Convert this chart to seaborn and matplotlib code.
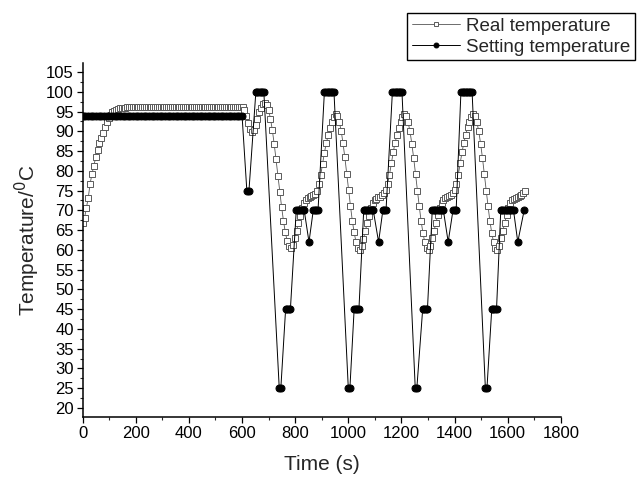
import numpy as np
import matplotlib
matplotlib.use("Agg")
import matplotlib.pyplot as plt
from matplotlib.ticker import MultipleLocator
import seaborn as sns

# real temperature, logged every 7 s
real_time = np.arange(0, 1667, 7)
real_temp = (
    [66.7, 68.1, 70.7, 73.2, 76.8, 79.2, 81.3, 83.4, 85.3, 87.0, 88.3, 89.7, 91.0, 92.3, 93.4, 94.2]
    + [94.8, 95.2, 95.5, 95.7, 95.8, 95.9, 96.0, 96.0, 96.1, 96.1]
    + [96.2] * 61
    + [95.5, 94.0, 92.2, 90.6, 89.9, 90.3, 91.6, 93.2, 94.8, 96.0, 96.9, 97.2, 96.7,
       95.4, 93.2, 90.3, 86.8, 82.9, 78.8, 74.7, 70.8, 67.3, 64.4, 62.2, 60.9]
    # cycle 1
    + [60.4, 61.3, 63.0, 64.9, 66.7, 68.5, 70.5, 71.9, 72.7, 73.2, 73.4, 73.6, 73.9,
       74.2, 75.0, 76.7, 78.9, 81.8, 84.6, 87.0, 89.0, 90.9, 92.3, 93.6, 94.5,
       93.9, 92.4, 90.2, 87.0, 83.4, 79.3, 75.1, 71.2, 67.4, 64.4, 62.0, 60.5]
    # cycle 2
    + [60.0, 61.0, 62.8, 64.8, 66.8, 68.7, 70.6, 71.9, 72.6, 73.0, 73.3, 73.5, 73.8,
       74.3, 75.1, 76.8, 79.0, 81.9, 84.7, 87.1, 89.1, 90.9, 92.4, 93.7, 94.5,
       93.9, 92.3, 90.1, 86.9, 83.3, 79.2, 75.0, 71.1, 67.3, 64.3, 61.9, 60.4]
    # cycle 3
    + [60.0, 61.0, 62.9, 64.9, 66.9, 68.8, 70.6, 71.9, 72.7, 73.1, 73.4, 73.6, 73.9,
       74.3, 75.1, 76.8, 79.0, 81.9, 84.7, 87.1, 89.1, 91.0, 92.4, 93.7, 94.5,
       93.9, 92.3, 90.1, 86.9, 83.3, 79.2, 75.0, 71.1, 67.3, 64.3, 61.9, 60.4]
    # cycle 4 (partial)
    + [60.0, 61.0, 62.9, 64.9, 66.9, 68.8, 70.6, 71.9, 72.6, 73.0, 73.2, 73.4, 73.7,
       74.0, 74.4, 74.8]
)

# setting temperature
setting_time = (
    list(range(0, 610, 10))
    + [618, 626]
    + [652, 658, 664, 670, 676, 682]
    + [740, 746]
    + [764, 770, 776, 782]
    + [804, 810, 816, 822, 828, 834]
    + [852]
    + [868, 874, 880, 886]
    + [910, 916, 922, 928, 934, 940, 946]
    + [1000, 1006]
    + [1022, 1028, 1034, 1040]
    + [1058, 1064, 1070, 1076, 1082, 1088, 1094]
    + [1114]
    + [1130, 1136, 1142]
    + [1166, 1172, 1178, 1184, 1190, 1196, 1202]
    + [1252, 1258]
    + [1280, 1286, 1292, 1298]
    + [1316, 1322, 1328, 1334, 1340, 1346, 1352, 1358]
    + [1376]
    + [1394, 1400, 1406]
    + [1424, 1430, 1436, 1442, 1448, 1454, 1460, 1466]
    + [1516, 1522]
    + [1540, 1546, 1552, 1558]
    + [1574, 1580, 1586, 1592, 1598, 1604, 1610, 1616, 1622]
    + [1638]
    + [1662]
)
setting_temp = (
    [94] * 61
    + [75, 75]
    + [100] * 6
    + [25, 25]
    + [45] * 4
    + [70] * 6
    + [62]
    + [70] * 4
    + [100] * 7
    + [25, 25]
    + [45] * 4
    + [70] * 7
    + [62]
    + [70] * 3
    + [100] * 7
    + [25, 25]
    + [45] * 4
    + [70] * 8
    + [62]
    + [70] * 3
    + [100] * 8
    + [25, 25]
    + [45] * 4
    + [70] * 9
    + [62]
    + [70]
)

sns.set_style("ticks")
plt.rcParams["font.family"] = ["Liberation Sans", "DejaVu Sans"]

fig = plt.figure(figsize=(6.38, 4.78), dpi=100)
ax = fig.add_axes([0.1296, 0.1276, 0.7494, 0.7406])

sns.lineplot(x=real_time, y=real_temp, ax=ax, estimator=None, sort=False,
             color="#555555", lw=0.6, marker="s", markersize=4.3,
             markerfacecolor="white", markeredgecolor="#5a5a5a",
             markeredgewidth=0.7, label="Real temperature")
sns.lineplot(x=setting_time, y=setting_temp, ax=ax, estimator=None, sort=False,
             color="black", lw=0.7, marker="o", markersize=5,
             markerfacecolor="black", markeredgecolor="black",
             label="Setting temperature")

ax.set_xlim(0, 1800)
ax.set_ylim(17.7, 107.3)
ax.xaxis.set_major_locator(MultipleLocator(200))
ax.xaxis.set_minor_locator(MultipleLocator(100))
ax.yaxis.set_major_locator(MultipleLocator(5))
ax.yaxis.set_minor_locator(MultipleLocator(2.5))
ax.tick_params(which="major", direction="out", length=4, width=0.9,
               labelsize=12, colors="black", pad=2.5)
ax.tick_params(which="minor", direction="out", length=2.5, width=0.8)
sns.despine(ax=ax)
for s in ("left", "bottom"):
    ax.spines[s].set_linewidth(1.1)
    ax.spines[s].set_color("black")

ax.set_xlabel("Time (s)", fontsize=15, labelpad=10)
ax.set_ylabel("Temperature/$^0$C", fontsize=15, labelpad=3)

ax.legend(loc="upper right", bbox_to_anchor=(635 / 638, 1 - 13 / 478),
          bbox_transform=fig.transFigure, fontsize=13.5, frameon=True,
          fancybox=False, edgecolor="black", framealpha=1, markerscale=0.7,
          handlelength=2.6, handletextpad=0.3, borderpad=0.25,
          labelspacing=0.2, borderaxespad=0)

fig.savefig("out.png", dpi=100)
